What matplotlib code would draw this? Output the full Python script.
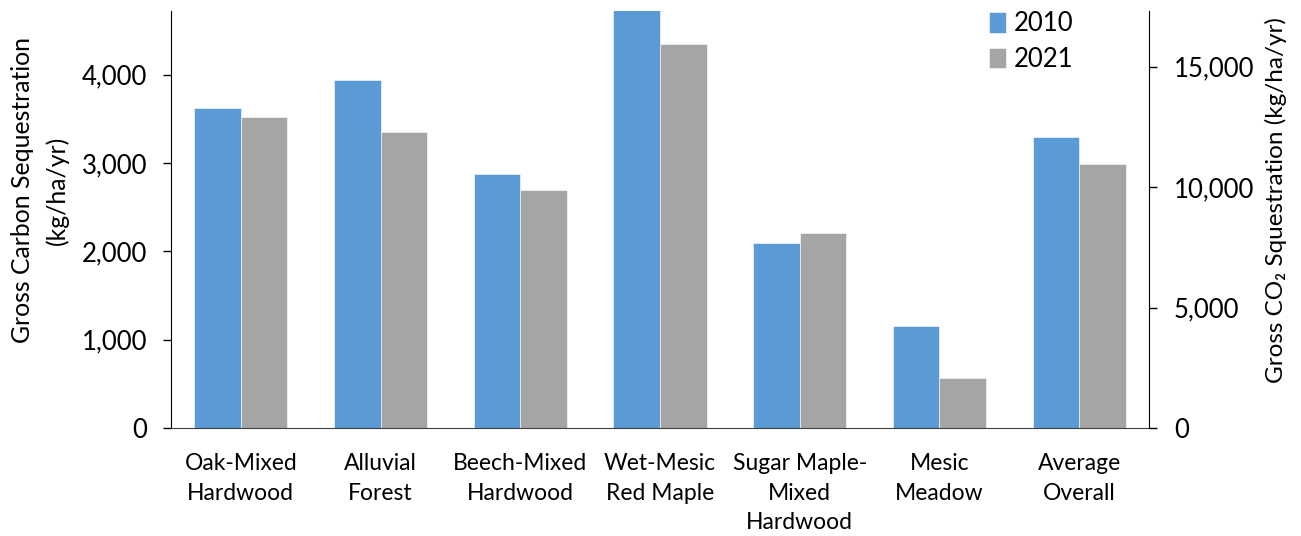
import numpy as np
import matplotlib
matplotlib.use("Agg")
import matplotlib.pyplot as plt

plt.rcParams['font.family'] = ['Lato', 'DejaVu Sans']

categories = ["Oak-Mixed\nHardwood", "Alluvial\nForest", "Beech-Mixed\nHardwood",
              "Wet-Mesic\nRed Maple", "Sugar Maple-\nMixed\nHardwood", "Mesic\nMeadow",
              "Average\nOverall"]
c_2010 = [3627, 3941, 2880, 4730, 2095, 1150, 3299]
c_2021 = [3519, 3349, 2690, 4345, 2212, 570, 2990]

blue = "#5B9BD5"
gray = "#A5A5A5"
ymax = 4722
co2_factor = 44.0 / 12.0

fig = plt.figure(figsize=(13.01, 5.36), dpi=100)
ax = fig.add_axes([171 / 1301, 1 - 428 / 536, (1149 - 171) / 1301, (428 - 11) / 536])

x = np.arange(len(categories))
w = 1 / 3
ax.bar(x - w / 2, c_2010, w, color=blue, label="2010", edgecolor="white", linewidth=0.4)
ax.bar(x + w / 2, c_2021, w, color=gray, label="2021", edgecolor="white", linewidth=0.4)

ax.set_xlim(-0.5, len(categories) - 0.5)
ax.set_ylim(0, ymax)
ax.set_yticks([0, 1000, 2000, 3000, 4000])
ax.set_yticklabels(["0", "1,000", "2,000", "3,000", "4,000"])
ax.set_xticks(x)
ax.set_xticklabels(categories, linespacing=1.5)
ax.tick_params(axis="x", length=0, pad=18, labelsize=16.5)
ax.tick_params(axis="y", length=6, width=1, labelsize=18.5, pad=11)
ax.spines["top"].set_visible(False)
ax.spines["right"].set_visible(False)
ax.spines["bottom"].set_color("#404040")
ax.set_ylabel("Gross Carbon Sequestration\n(kg/ha/yr)", fontsize=17.8, linespacing=1.6)
ax.yaxis.set_label_coords(-0.104, 0.571)

ax2 = ax.twinx()
ax2.set_ylim(0, ymax * co2_factor)
ax2.set_yticks([0, 5000, 10000, 15000])
ax2.set_yticklabels(["0", "5,000", "10,000", "15,000"])
ax2.tick_params(axis="y", length=6, width=1, labelsize=18.5, pad=12)
for s in ["top", "left", "bottom"]:
    ax2.spines[s].set_visible(False)
ax2.set_ylabel("Gross CO\u2082 Squestration (kg/ha/yr)", fontsize=17.5)
ax2.yaxis.set_label_coords(1.1186, 0.547)

leg = ax.legend(loc="upper left", bbox_to_anchor=(979 / 1301, 1 - 1 / 536),
                bbox_transform=fig.transFigure, frameon=False, fontsize=18.5,
                handlelength=0.65, handleheight=0.85, handletextpad=0.3,
                labelspacing=0.42, borderaxespad=0)

fig.savefig("out.png", dpi=100)
